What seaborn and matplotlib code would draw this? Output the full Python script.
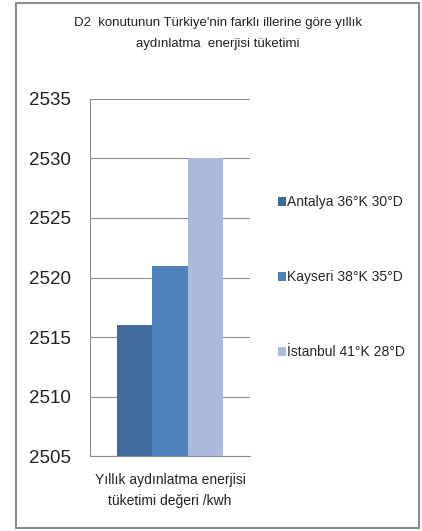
import pandas as pd
import seaborn as sns
import matplotlib.pyplot as plt
from matplotlib.patches import Rectangle

categories = ["Yıllık aydınlatma enerjisi\ntüketimi değeri /kwh"]
cities = ["Antalya 36°K 30°D", "Kayseri 38°K 35°D", "İstanbul 41°K 28°D"]
values = [2516, 2521, 2530]
colors = ["#40699C", "#4F81BD", "#AABADA"]

df = pd.DataFrame({"kategori": categories * 3, "il": cities, "deger": values})

sns.set_style("white")
plt.rcParams['font.family'] = ['Liberation Sans', 'DejaVu Sans']

fig = plt.figure(figsize=(4.22, 5.31), dpi=100)
ax = fig.add_axes([0.2133, 0.1412, 0.379, 0.6724])

sns.barplot(data=df, x="kategori", y="deger", hue="il", palette=colors,
            width=0.66, gap=0, saturation=1, linewidth=0, ax=ax, legend=True)

ax.set_ylim(2505, 2535)
ax.set_yticks(range(2505, 2536, 5))
ax.set_xlim(-0.5, 0.5)
ax.set_xlabel("")
ax.set_ylabel("")
ax.yaxis.grid(True, color="#8c8c8c", linewidth=0.8)
ax.set_axisbelow(True)
for s in ["top", "right"]:
    ax.spines[s].set_visible(False)
for s in ["left", "bottom"]:
    ax.spines[s].set_color("#8c8c8c")
    ax.spines[s].set_linewidth(0.8)
ax.tick_params(axis="y", labelsize=13.5, length=0, pad=14, labelcolor="#222222")
ax.tick_params(axis="x", labelsize=10, length=0, pad=12, labelcolor="#222222")
for lbl in ax.get_xticklabels():
    lbl.set_linespacing(1.7)

ax.get_legend().remove()
handles, labels = ax.get_legend_handles_labels()
fig.legend(handles, labels, loc="upper left", bbox_to_anchor=(0.645, 0.643),
           frameon=False, fontsize=10, handlelength=0.6, handleheight=0.6,
           handletextpad=0.1, labelspacing=4.4, borderaxespad=0)

fig.text(0.517, 0.968, "D2  konutunun Türkiye'nin farklı illerine göre yıllık\naydınlatma  enerjisi tüketimi",
         ha="center", va="top", fontsize=9.5, linespacing=2.0, color="#222222")

fig.patches.append(Rectangle((0.038, 0.006), 0.955, 0.988, transform=fig.transFigure,
                             fill=False, edgecolor="#8c8c8c", linewidth=1.5))

fig.savefig("out.png", dpi=100)
